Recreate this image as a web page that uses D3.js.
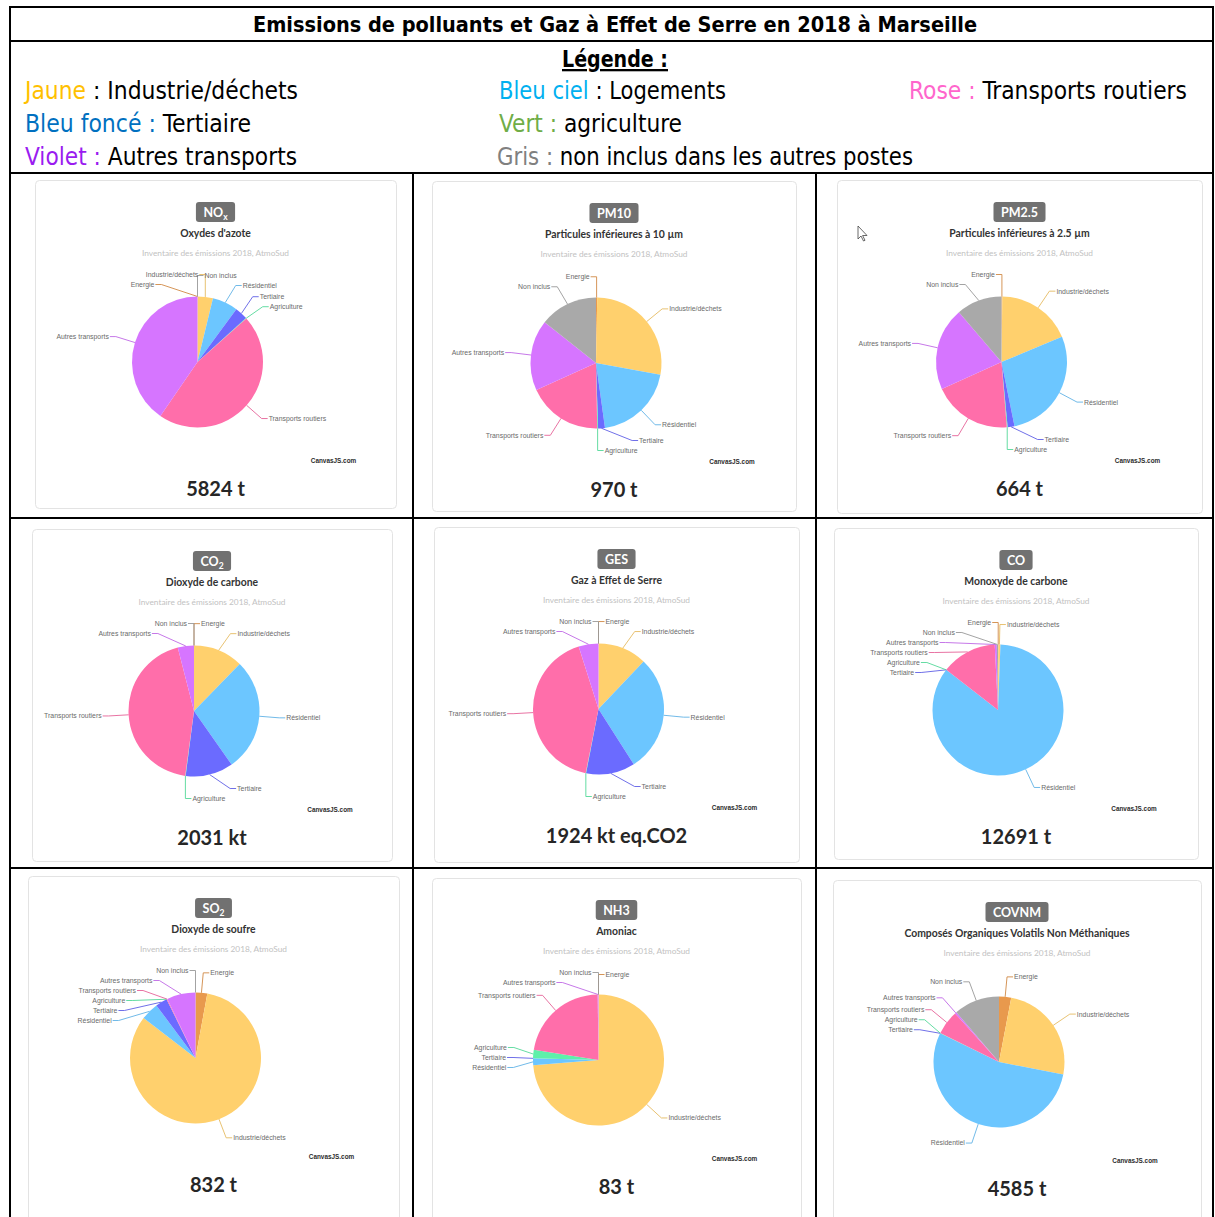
<!DOCTYPE html>
<html>
<head>
<meta charset="utf-8">
<script src="https://cdn.jsdelivr.net/npm/d3@7"></script>
<style>
    html, body { margin: 0; padding: 0; background: #fff; }
    svg { display: block; }
</style>
</head>
<body>
<svg id="chart" width="1215" height="1217"></svg>
<script>
// sectors, in the order the pies are drawn (clockwise from 12 o'clock)
const sectors = ["Energie", "Industrie/déchets", "Résidentiel", "Tertiaire",
    "Agriculture", "Transports routiers", "Autres transports", "Non inclus"];
const sectorColors = ["#e8994d", "#ffd06d", "#6cc6ff", "#6b6bff",
    "#5ef0aa", "#ff6eaa", "#d675ff", "#a9a9a9"];

// share of each sector (%)
const noxShares   = [0,   3.8,  6.3,  3.2,  0.1, 46.2, 40.4, 0];
const pm10Shares  = [0.3, 27.7, 20.0, 1.7,  0.2, 18.6, 17.5, 14.4];
const pm25Shares  = [0.2, 18.6, 28.2, 1.7,  0.2, 19.6, 20.6, 11.3];
const co2Shares   = [0,   12.3, 28.0, 11.8, 0.1, 43.9, 4.0,  0];
const gesShares   = [0,   12.1, 28.9, 12.1, 0.1, 42.0, 4.9,  0];
const coShares    = [0.1, 0.5,  84.9, 0,    0,   13.7, 0.5,  0.3];
const so2Shares   = [2.9, 82.7, 4.4,  2.9,  0,   0.2,  7.1,  0];
const nh3Shares   = [0,   73.7, 1.7,  0,    2.1, 22.3, 0.2,  0];
const covnmShares = [3.0, 25.1, 54.2, 0,    0.1, 6.0,  0.4,  11.3];

const allShares = [noxShares, pm10Shares, pm25Shares, co2Shares, gesShares,
    coShares, so2Shares, nh3Shares, covnmShares];

// badge code ("|" marks a subscript), long name, total
const codes = ["NO|x", "PM10", "PM2.5", "CO|2", "GES", "CO", "SO|2", "NH3", "COVNM"];
const names = ["Oxydes d'azote", "Particules inférieures à 10 µm", "Particules inférieures à 2.5 µm",
    "Dioxyde de carbone", "Gaz à Effet de Serre", "Monoxyde de carbone",
    "Dioxyde de soufre", "Amoniac", "Composés Organiques Volatils Non Méthaniques"];
const totals = ["5824 t", "970 t", "664 t", "2031 kt", "1924 kt eq.CO2", "12691 t",
    "832 t", "83 t", "4585 t"];

// legend of the table
const legendKeys = ["Jaune", "Bleu ciel", "Rose : ", "Bleu foncé : ", "Vert : ", "Violet : ", "Gris : "];
const legendTexts = [" : Industrie/déchets", " : Logements", "Transports routiers", "Tertiaire",
    "agriculture", "Autres transports", "non inclus dans les autres postes"];
const legendColors = ["#ffc000", "#00b0f0", "#ff66cc", "#0070c0", "#70ad47", "#9a1cf0", "#808080"];

// ---------------- layout ----------------
const svg = d3.select('svg#chart');
const tableFont = '"Liberation Sans Narrow", "DejaVu Sans Condensed", "Liberation Sans", sans-serif';
const cardFont = 'Lato, "Open Sans", sans-serif';

// legend line placement: [x, baseline, width]
const legendPos = [[25, 99, 273], [499, 99, 227], [909, 99, 278], [25, 132, 226],
    [499, 132, 183], [25, 165, 272], [497, 165, 416]];

// card boxes: [x0, y0, x1, y1]
const cardBoxes = [
    [35, 180, 396, 508], [432, 181, 796, 511], [837, 180, 1202, 513],
    [32, 529, 392, 861], [434, 527, 799, 862], [834, 528, 1198, 859],
    [28, 876, 399, 1228], [432, 878, 801, 1228], [833, 880, 1201, 1228]];

// labels that CanvasJS pushed to the other side of the pie
const labelSides = [
    {"Energie": -1, "Industrie/déchets": -1, "Non inclus": 1},
    {"Energie": -1}, {"Energie": -1}, {"Agriculture": 1}, {"Agriculture": 1},
    {"Energie": -1}, {}, {}, {}];

const R = 65.5;          // pie radius
const LR = R + 20;       // radius of the label anchors
const GAP = 10;          // min vertical gap between labels
const LIM = LR + 2;

// ---------------- table ----------------
let grid = svg.append('g').attr('stroke', '#000').attr('stroke-width', 2);
[7, 41, 173, 518, 868].forEach(function (y) {
    grid.append('line').attr('x1', 9).attr('x2', 1214).attr('y1', y).attr('y2', y);
});
[10, 1213].forEach(function (x) {
    grid.append('line').attr('x1', x).attr('x2', x).attr('y1', 6).attr('y2', 1217);
});
[413, 816].forEach(function (x) {
    grid.append('line').attr('x1', x).attr('x2', x).attr('y1', 172).attr('y2', 1217);
});

svg.append('text')
    .attr('x', 615).attr('y', 32)
    .attr('text-anchor', 'middle')
    .style('font-family', tableFont).style('font-weight', 'bold').style('font-size', '22px')
    .attr('textLength', 724).attr('lengthAdjust', 'spacingAndGlyphs')
    .text('Emissions de polluants et Gaz à Effet de Serre en 2018 à Marseille');

svg.append('text')
    .attr('x', 615).attr('y', 67)
    .attr('text-anchor', 'middle')
    .style('font-family', tableFont).style('font-weight', 'bold').style('font-size', '23px')
    .style('text-decoration', 'underline')
    .attr('textLength', 106).attr('lengthAdjust', 'spacingAndGlyphs')
    .text('Légende :');

legendKeys.forEach(function (k, i) {
    let p = legendPos[i];
    let t = svg.append('text')
        .attr('x', p[0]).attr('y', p[1])
        .style('font-family', tableFont).style('font-size', '24px')
        .attr('textLength', p[2]).attr('lengthAdjust', 'spacingAndGlyphs');
    t.append('tspan').attr('fill', legendColors[i]).text(k);
    t.append('tspan').attr('fill', '#000').text(legendTexts[i]);
});

// ---------------- cards ----------------
let pie = d3.pie().sort(null).value(d => d);
let arc = d3.arc().innerRadius(0).outerRadius(R);

function placeLabels(arcs, sides) {
    let items = arcs.map(function (a, i) {
        let deg = (a.startAngle + a.endAngle) / 2 * 180 / Math.PI;
        let side = deg < 180 ? 1 : -1;
        if (sides[sectors[i]] !== undefined) side = sides[sectors[i]];
        // angle used for ordering along the side (top to bottom)
        let key = deg;
        if (side === 1 && deg > 270) key = deg - 360;
        if (side === -1 && deg < 90) key = deg + 360;
        return {i: i, mid: deg * Math.PI / 180, side: side, key: key,
            y: -LR * Math.cos(key * Math.PI / 180)};
    });
    [1, -1].forEach(function (side) {
        let list = items.filter(d => d.side === side).sort(function (a, b) {
            return side === 1 ? (a.key - b.key || a.i - b.i) : (b.key - a.key || b.i - a.i);
        });
        for (let it = 0; it < 400; it++) {
            for (let k = 0; k < list.length - 1; k++) {
                let d = list[k + 1].y - list[k].y;
                if (d < GAP) {
                    let s = (GAP - d) / 2;
                    list[k].y -= s;
                    list[k + 1].y += s;
                }
            }
            list.forEach(function (d) { d.y = Math.max(-LIM, Math.min(LIM, d.y)); });
        }
    });
    items.forEach(function (d) {
        let q = LR * LR - d.y * d.y;
        d.x = q > 0 ? d.side * Math.sqrt(q) : R * Math.sin(d.mid);
    });
    return items;
}

allShares.forEach(function (shares, c) {
    let b = cardBoxes[c];
    let cx = (b[0] + b[2]) / 2, top = b[1];
    let card = svg.append('g');

    card.append('rect')
        .attr('x', b[0] + 0.5).attr('y', b[1] + 0.5)
        .attr('width', b[2] - b[0]).attr('height', b[3] - b[1])
        .attr('rx', 4).attr('fill', '#fff')
        .attr('stroke', '#e3e3e3').attr('stroke-width', 1);

    // badge
    let parts = codes[c].split('|');
    let badgeText = card.append('text')
        .attr('x', cx).attr('y', top + 36.5)
        .attr('text-anchor', 'middle')
        .attr('fill', '#fff')
        .style('font-family', cardFont).style('font-weight', 'bold').style('font-size', '12.5px');
    badgeText.append('tspan').text(parts[0]);
    if (parts[1]) {
        badgeText.append('tspan').attr('dy', 3).style('font-size', '8.5px').text(parts[1]);
    }
    let bw = badgeText.node().getComputedTextLength() + 15;
    card.insert('rect', 'text')
        .attr('x', cx - bw / 2).attr('y', top + 22)
        .attr('width', bw).attr('height', 20)
        .attr('rx', 3).attr('fill', '#717171');

    card.append('text')
        .attr('x', cx).attr('y', top + 56.5)
        .attr('text-anchor', 'middle').attr('fill', '#333')
        .style('font-family', cardFont).style('font-weight', 'bold').style('font-size', '10.4px')
        .text(names[c]);

    card.append('text')
        .attr('x', cx).attr('y', top + 76)
        .attr('text-anchor', 'middle').attr('fill', '#c2c2c2')
        .style('font-family', cardFont).style('font-size', '8.3px')
        .text('Inventaire des émissions 2018, AtmoSud');

    // pie
    let pg = card.append('g')
        .attr('transform', 'translate(' + (cx - 18) + ',' + (top + 182) + ')');
    let arcs = pie(shares);
    pg.selectAll('path.slice')
        .data(arcs)
        .enter().append('path')
        .attr('class', 'slice')
        .attr('d', arc)
        .attr('fill', (d, i) => sectorColors[i]);

    let labels = placeLabels(arcs, labelSides[c]);
    pg.selectAll('path.link')
        .data(labels)
        .enter().append('path')
        .attr('class', 'link')
        .attr('fill', 'none')
        .attr('stroke', d => d3.color(sectorColors[d.i]).darker(0.3))
        .attr('stroke-width', 0.9)
        .attr('d', function (d) {
            let ex = R * Math.sin(d.mid), ey = -R * Math.cos(d.mid);
            return 'M' + ex + ',' + ey + 'L' + d.x + ',' + d.y + 'L' + (d.x + d.side * 6) + ',' + d.y;
        });
    pg.selectAll('text.lbl')
        .data(labels)
        .enter().append('text')
        .attr('class', 'lbl')
        .attr('x', d => d.x + d.side * 7)
        .attr('y', d => d.y)
        .attr('dy', '0.35em')
        .attr('text-anchor', d => d.side === 1 ? 'start' : 'end')
        .attr('fill', '#6a6a6a')
        .style('font-family', '"Liberation Sans", sans-serif').style('font-size', '6.9px')
        .text(d => sectors[d.i]);

    card.append('text')
        .attr('x', cx + 118).attr('y', top + 283)
        .attr('text-anchor', 'middle').attr('fill', '#2b2b2b')
        .style('font-family', '"Liberation Sans", sans-serif').style('font-weight', 'bold')
        .style('font-size', '6.4px')
        .text('CanvasJS.com');

    card.append('text')
        .attr('x', cx).attr('y', top + 316)
        .attr('text-anchor', 'middle').attr('fill', '#262626')
        .style('font-family', cardFont).style('font-weight', 'bold').style('font-size', '20px')
        .text(totals[c]);
});

// mouse pointer caught in the screenshot (PM2.5 card)
svg.append('path')
    .attr('d', 'M858,226 L858,239 L861,236 L863.5,241 L865,240.3 L862.6,235.5 L867,235.5 Z')
    .attr('fill', '#fff').attr('stroke', '#444').attr('stroke-width', 0.8);
</script>
</body>
</html>
